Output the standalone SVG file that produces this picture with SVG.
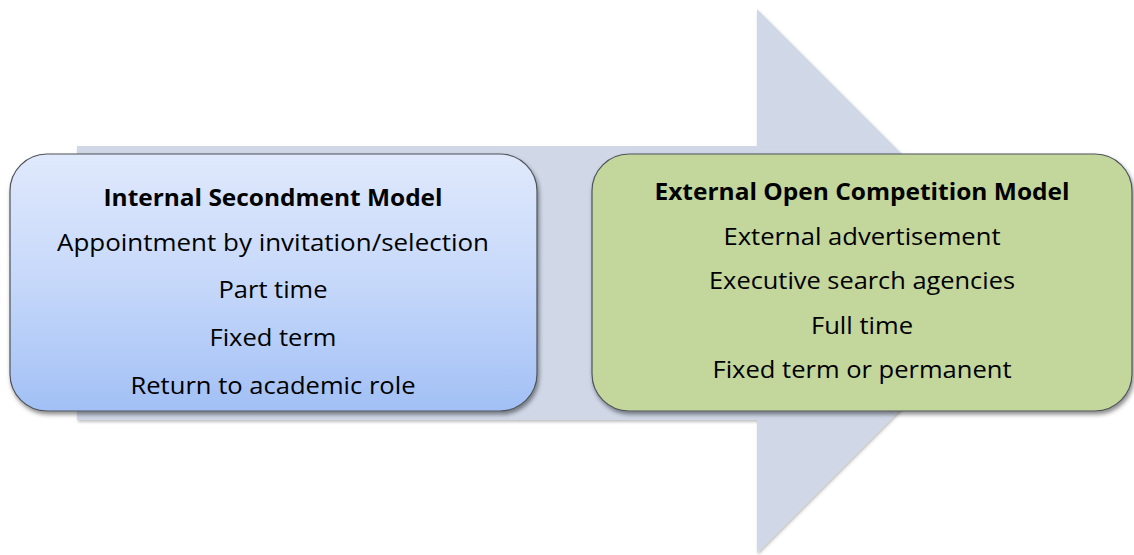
<svg xmlns="http://www.w3.org/2000/svg" width="1134" height="555" viewBox="0 0 1134 555">
  <style>
    .t { font-family: "Open Sans", "Liberation Sans", sans-serif; font-size: 24px; fill: #000; text-anchor: middle; }
    .b { font-weight: bold; }
    .box { stroke: #4f545a; stroke-width: 1.2; }
  </style>
  <defs>
    <linearGradient id="blueGrad" x1="0" y1="0" x2="0" y2="1">
      <stop offset="0" stop-color="#E0E9FC"/>
      <stop offset="0.5" stop-color="#C6D8FA"/>
      <stop offset="1" stop-color="#A2C0F5"/>
    </linearGradient>
    <filter id="shadow" x="-5%" y="-5%" width="115%" height="120%">
      <feDropShadow dx="1.5" dy="3" stdDeviation="2" flood-color="#000" flood-opacity="0.45"/>
    </filter>
    <filter id="ashadow" x="-5%" y="-5%" width="115%" height="115%">
      <feDropShadow dx="1" dy="2" stdDeviation="1.5" flood-color="#000" flood-opacity="0.25"/>
    </filter>
  </defs>

  <g id="connectors">
    <path id="big-arrow" d="M77,146 H757 V9 L1029,281 L757,553 V420 H77 Z" fill="#D0D8E8" filter="url(#ashadow)"/>
  </g>

  <g id="internal-secondment">
    <rect class="box" x="10" y="154" width="527" height="257" rx="37" ry="37" fill="url(#blueGrad)" filter="url(#shadow)"/>
    <text class="t b" x="273" y="206" textLength="339" lengthAdjust="spacingAndGlyphs">Internal Secondment Model</text>
    <text class="t" x="273" y="251" textLength="432" lengthAdjust="spacingAndGlyphs">Appointment by invitation/selection</text>
    <text class="t" x="273" y="298" textLength="109" lengthAdjust="spacingAndGlyphs">Part time</text>
    <text class="t" x="273" y="346" textLength="127" lengthAdjust="spacingAndGlyphs">Fixed term</text>
    <text class="t" x="273" y="394" textLength="285" lengthAdjust="spacingAndGlyphs">Return to academic role</text>
  </g>

  <g id="external-open-competition">
    <rect class="box" x="592" y="154" width="540" height="257" rx="37" ry="37" fill="#C3D69B" stroke="#56613f" filter="url(#shadow)"/>
    <text class="t b" x="862" y="200" textLength="415" lengthAdjust="spacingAndGlyphs">External Open Competition Model</text>
    <text class="t" x="862" y="245" textLength="277" lengthAdjust="spacingAndGlyphs">External advertisement</text>
    <text class="t" x="862" y="289" textLength="306" lengthAdjust="spacingAndGlyphs">Executive search agencies</text>
    <text class="t" x="862" y="334" textLength="102" lengthAdjust="spacingAndGlyphs">Full time</text>
    <text class="t" x="862" y="378" textLength="299" lengthAdjust="spacingAndGlyphs">Fixed term or permanent</text>
  </g>
</svg>
